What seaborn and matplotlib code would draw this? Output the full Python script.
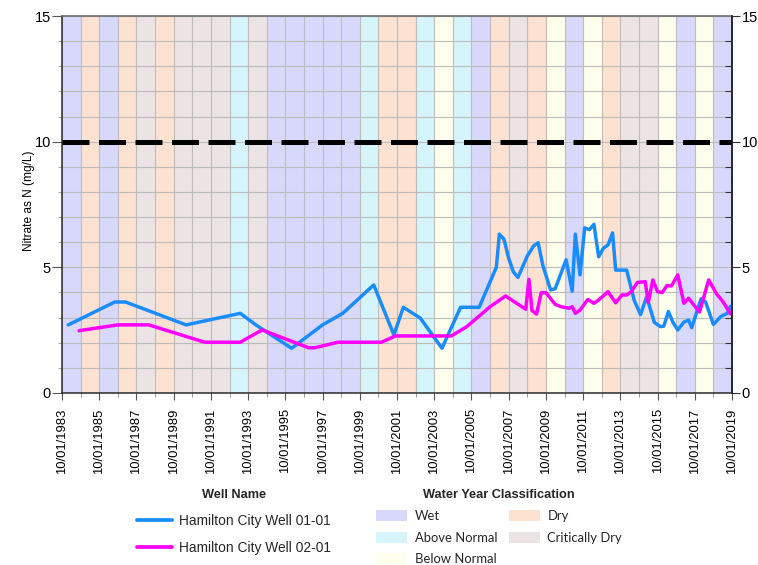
import datetime as dt

import matplotlib
matplotlib.use("Agg")
import matplotlib.pyplot as plt
import matplotlib.dates as mdates
import matplotlib.patches as mpatches
from matplotlib.lines import Line2D
from matplotlib import font_manager
from matplotlib.ticker import MultipleLocator, FixedLocator
import pandas as pd
import seaborn as sns

# ---------------------------------------------------------------- data
well1_dates = [
    "1984-02", "1986-08", "1987-03", "1990-06", "1993-05", "1994-03", "1996-02",
    "1997-10", "1998-11", "2000-07", "2001-08", "2002-02", "2003-01", "2004-03",
    "2005-03", "2006-03", "2007-02", "2007-04", "2007-07", "2007-10", "2008-01",
    "2008-04", "2008-10", "2009-02", "2009-05", "2009-08", "2010-01", "2010-04",
    "2010-11", "2011-03", "2011-05", "2011-08", "2011-11", "2012-02", "2012-05",
    "2012-08", "2012-11", "2013-02", "2013-05", "2013-07", "2014-02", "2014-07",
    "2014-11", "2015-03", "2015-08", "2015-12", "2016-02", "2016-05", "2016-08",
    "2016-11", "2017-03", "2017-06", "2017-08", "2018-02", "2018-05", "2018-10",
    "2019-03", "2019-07", "2019-09",
]
well1_nitrate = [
    2.71, 3.62, 3.62, 2.71, 3.17, 2.71, 1.78,
    2.71, 3.17, 4.30, 2.31, 3.41, 2.98, 1.78,
    3.41, 3.41, 5.00, 6.32, 6.12, 5.36, 4.82,
    4.60, 5.45, 5.85, 5.98, 5.08, 4.10, 4.15,
    5.30, 4.05, 6.32, 4.70, 6.57, 6.50, 6.71,
    5.42, 5.76, 5.89, 6.37, 4.89, 4.89, 3.68,
    3.12, 3.83, 2.80, 2.64, 2.66, 3.24, 2.80,
    2.51, 2.82, 2.90, 2.60, 3.75, 3.62, 2.73,
    3.05, 3.17, 3.45,
]

well2_dates = [
    "1984-09", "1986-10", "1988-06", "1991-06", "1993-05", "1994-07", "1997-01",
    "1997-05", "1998-08", "2000-12", "2001-09", "2004-09", "2005-07", "2006-10",
    "2007-08", "2008-09", "2008-11", "2009-01", "2009-04", "2009-07", "2009-10",
    "2010-04", "2010-08", "2011-01", "2011-03", "2011-05", "2011-08", "2012-01",
    "2012-05", "2012-08", "2013-02", "2013-07", "2013-11", "2014-02", "2014-05",
    "2014-09", "2015-02", "2015-04", "2015-07", "2015-10", "2016-01", "2016-04",
    "2016-07", "2016-11", "2017-03", "2017-06", "2018-01", "2018-07", "2018-12",
    "2019-04", "2019-09",
]
well2_nitrate = [
    2.48, 2.71, 2.71, 2.02, 2.02, 2.51, 1.80,
    1.80, 2.02, 2.02, 2.27, 2.27, 2.64, 3.43,
    3.86, 3.33, 4.52, 3.28, 3.14, 3.99, 3.99,
    3.53, 3.43, 3.37, 3.43, 3.17, 3.30, 3.72,
    3.57, 3.70, 4.03, 3.59, 3.90, 3.90, 4.03,
    4.40, 4.43, 3.61, 4.50, 4.03, 4.00, 4.27,
    4.26, 4.70, 3.57, 3.77, 3.22, 4.50, 3.95,
    3.65, 3.15,
]

well_names = ["Hamilton City Well 01-01", "Hamilton City Well 02-01"]
well_colors = ["#1a8cff", "#ff00ff"]

# Sacramento Valley water year types, WY1984 .. WY2019
water_years = list(range(1984, 2020))
year_types = [
    "W", "D", "W", "D", "C", "D", "C", "C", "C", "AN", "C", "W", "W", "W", "W",
    "W", "AN", "D", "D", "AN", "BN", "AN", "W", "D", "C", "D", "BN", "W", "BN",
    "D", "C", "C", "BN", "W", "BN", "W",
]
type_codes = ["W", "AN", "BN", "D", "C"]
type_labels = ["Wet", "Above Normal", "Below Normal", "Dry", "Critically Dry"]
type_colors = ["#d8d8fc", "#d6f4fc", "#fefeec", "#fde2d2", "#ece4e4"]

mcl_value = 10.0
tick_years = list(range(1983, 2020, 2))

# ---------------------------------------------------------------- style
sns.set_theme(style="white")
plt.rcParams["font.family"] = ["Liberation Sans", "DejaVu Sans"]

available = {f.name for f in font_manager.fontManager.ttflist}
if "Liberation Sans Narrow" in available:
    entry_font = dict(family="Liberation Sans Narrow", size=12.5)
    ylabel_font = dict(family="Liberation Sans Narrow", size=10.0)
else:
    entry_font = dict(family="Liberation Sans", size=9.9)
    ylabel_font = dict(family="Liberation Sans", size=8.6)

df = pd.concat([
    pd.DataFrame({"date": pd.to_datetime(well1_dates), "nitrate": well1_nitrate,
                  "well": well_names[0]}),
    pd.DataFrame({"date": pd.to_datetime(well2_dates), "nitrate": well2_nitrate,
                  "well": well_names[1]}),
], ignore_index=True)

W, H = 758, 565
fig = plt.figure(figsize=(W / 100, H / 100), dpi=100)
ax = fig.add_axes([62 / W, 1 - 393 / H, 670 / W, 377 / H])

# water-year classification bands
color_of = dict(zip(type_codes, type_colors))
for wy, t in zip(water_years, year_types):
    ax.axvspan(dt.datetime(wy - 1, 10, 1), dt.datetime(wy, 10, 1),
               color=color_of[t], lw=0, zorder=0.5)

# drinking-water limit
ax.axhline(mcl_value, color="black", lw=3.6, dashes=(5.4, 1.9),
           dash_capstyle="butt", zorder=3)

sns.lineplot(data=df, x="date", y="nitrate", hue="well",
             palette=dict(zip(well_names, well_colors)), estimator=None,
             linewidth=2.5, legend=False, ax=ax, zorder=4)

ax.set_xlim(dt.datetime(1983, 10, 1), dt.datetime(2019, 10, 1))
ax.set_ylim(0, 15)

# axes, ticks, grid
ax.xaxis.set_major_locator(FixedLocator(
    [mdates.date2num(dt.datetime(y, 10, 1)) for y in tick_years]))
ax.xaxis.set_minor_locator(FixedLocator(
    [mdates.date2num(dt.datetime(y, 10, 1)) for y in range(1983, 2020)]))
ax.xaxis.set_major_formatter(mdates.DateFormatter("%m/%d/%Y"))
ax.yaxis.set_major_locator(MultipleLocator(5))
ax.yaxis.set_minor_locator(MultipleLocator(1))

ax.set_axisbelow("line")
ax.grid(which="both", axis="both", color="#bcbcbc", lw=0.8, zorder=1)

ax.tick_params(axis="x", which="major", direction="out", length=5, width=0.8,
               color="#555555", labelsize=9.4, labelcolor="black",
               labelrotation=90, pad=6, bottom=True)
ax.tick_params(axis="x", which="minor", direction="out", length=3, width=0.6,
               color="#888888", bottom=True)
ax.tick_params(axis="y", which="major", direction="out", length=7, width=0.8,
               color="#555555", labelsize=10.5, labelcolor="black", pad=1,
               left=True)
ax.tick_params(axis="y", which="minor", left=True, length=3, width=0.6,
               color="#999999", direction="out")

ax.set_xlabel("")
ax.set_ylabel("Nitrate as N (mg/L)", color="black", **ylabel_font)
ax.yaxis.set_label_coords(-0.041, 0.51)

for side, sp in ax.spines.items():
    sp.set_visible(True)
    sp.set_linewidth(1.1)
    sp.set_color("#2a2a2a" if side != "top" else "#666666")

# secondary y axis on the right
ax2 = ax.twinx()
ax2.set_ylim(0, 15)
ax2.yaxis.set_major_locator(MultipleLocator(5))
ax2.yaxis.set_minor_locator(MultipleLocator(1))
ax2.tick_params(axis="y", which="major", direction="out", length=6, width=0.8,
                color="#333333", labelsize=10.5, labelcolor="black", pad=1,
                right=True)
ax2.tick_params(axis="y", which="minor", direction="in", length=5, width=0.8,
                color="#333333", right=True)
ax2.grid(False)
for sp in ax2.spines.values():
    sp.set_visible(False)
ax2.spines["right"].set_visible(True)
ax2.spines["right"].set_color("#1e1e3a")
ax2.spines["right"].set_linewidth(1.1)

# legends below the plot
line_handles = [Line2D([0], [0], color=c, lw=2.7) for c in well_colors]
leg1 = fig.legend(line_handles, well_names, title="Well Name",
                  loc="upper left", bbox_to_anchor=(137 / W, 1 - 489 / H),
                  frameon=False, prop=entry_font, handlelength=2.55,
                  handletextpad=0.5, labelspacing=0.95, borderpad=0,
                  borderaxespad=0,
                  title_fontproperties=dict(family="Liberation Sans",
                                            weight="bold", size=9.2))

patch_handles = [mpatches.Patch(facecolor=c, edgecolor="none")
                 for c in type_colors]
leg2 = fig.legend(patch_handles, type_labels, title="Water Year Classification",
                  loc="upper left", bbox_to_anchor=(376 / W, 1 - 489 / H),
                  ncol=2, frameon=False,
                  prop=dict(family="Lato", size=9.4), handlelength=2.4,
                  handleheight=0.9, handletextpad=0.55, labelspacing=0.72,
                  columnspacing=0.9, borderpad=0, borderaxespad=0,
                  title_fontproperties=dict(family="Liberation Sans",
                                            weight="bold", size=9.2))

fig.savefig("out.png", dpi=100)
